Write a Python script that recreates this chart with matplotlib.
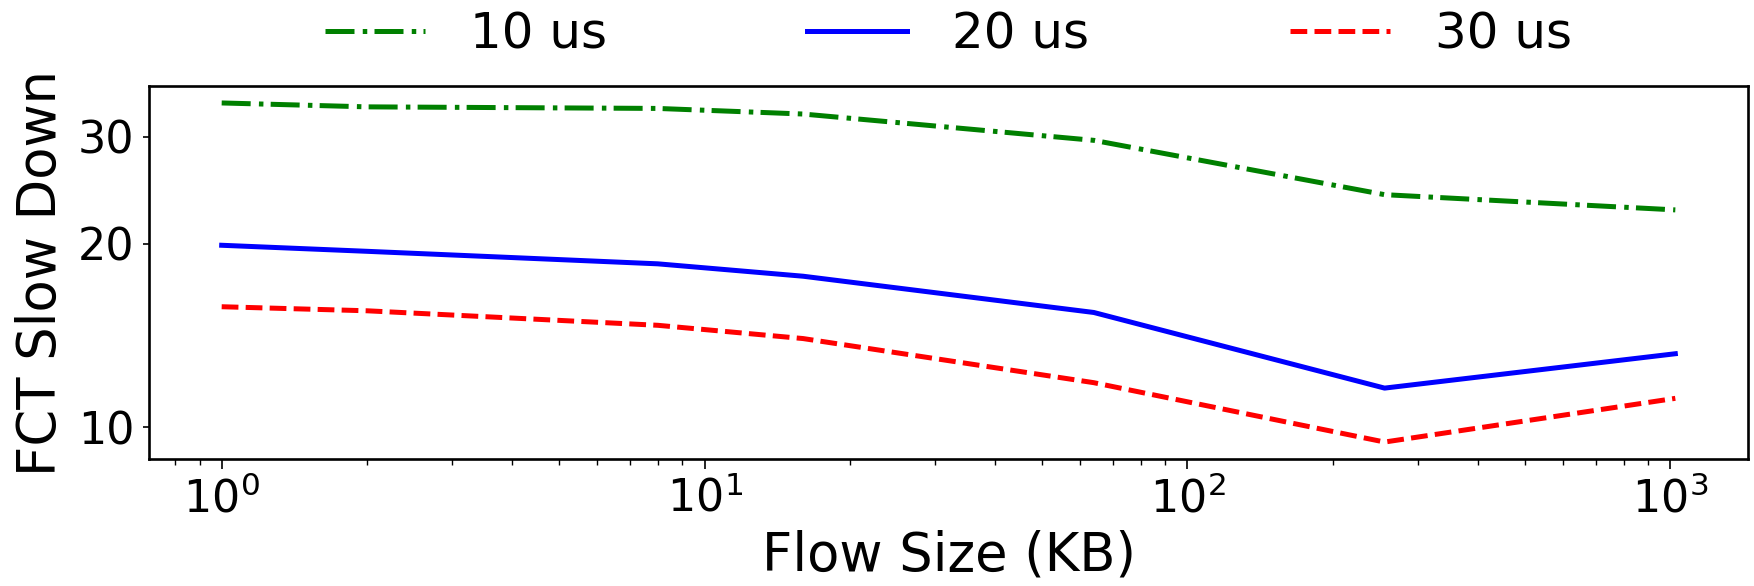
import matplotlib
matplotlib.use("Agg")
import matplotlib.pyplot as plt
from matplotlib.ticker import NullLocator, FixedLocator, FixedFormatter

flow_size_kb = [1, 2, 8, 16, 64, 256, 1024]
slowdown_10us = [34.1, 33.6, 33.4, 32.7, 29.6, 24.1, 22.75]
slowdown_20us = [19.9, 19.45, 18.55, 17.7, 15.43, 11.59, 13.2]
slowdown_30us = [15.77, 15.53, 14.7, 13.98, 11.83, 9.45, 11.15]
series_labels = ["10 us", "20 us", "30 us"]
ytick_values = [10, 20, 30]
ytick_labels = ["10", "20", "30"]

fig = plt.figure(figsize=(17.54, 5.86), dpi=100)
ax = fig.add_axes([149/1754, 1 - 459/586, (1748 - 149)/1754, (459 - 86)/586])

lw = 3.6
ax.plot(flow_size_kb, slowdown_10us, color="green", linestyle=(0, (5.8, 1.65, 0.9, 1.45)), lw=lw, label=series_labels[0])
ax.plot(flow_size_kb, slowdown_20us, color="blue", linestyle="-", lw=lw, label=series_labels[1])
ax.plot(flow_size_kb, slowdown_30us, color="red", linestyle=(0, (3.35, 1.45)), lw=lw, label=series_labels[2])

ax.set_xscale("log")
ax.set_yscale("log")
ax.yaxis.set_major_locator(FixedLocator(ytick_values))
ax.yaxis.set_major_formatter(FixedFormatter(ytick_labels))
ax.yaxis.set_minor_locator(NullLocator())

for s in ax.spines.values():
    s.set_linewidth(1.9)

ax.tick_params(axis="x", which="major", length=7, width=1.2, labelsize=32, pad=6)
ax.tick_params(axis="x", which="minor", length=4, width=1.0)
ax.tick_params(axis="y", which="major", length=4.5, width=1.2, labelsize=32, pad=6)

ax.set_xlabel("Flow Size (KB)", fontsize=38, labelpad=6)
ax.set_ylabel("FCT Slow Down", fontsize=38, labelpad=8)

ax.legend(loc="lower center", bbox_to_anchor=(0.5, 1.02), ncol=3, frameon=False,
          fontsize=36, handlelength=2.0, columnspacing=4.0, handletextpad=0.9,
          borderaxespad=0.0)

fig.savefig("out.png", dpi=100)
